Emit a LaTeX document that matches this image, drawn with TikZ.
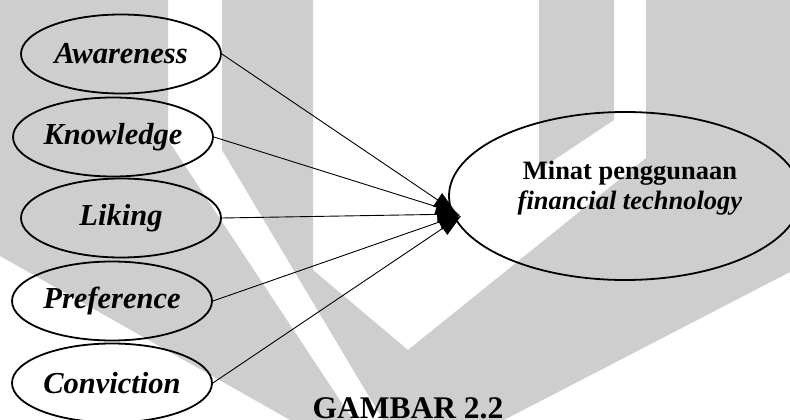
\documentclass[tikz,border=0pt]{standalone}
\usepackage{fontspec}
\setmainfont{Liberation Serif}
\usetikzlibrary{shapes.geometric,arrows.meta}

\definecolor{watermarkgray}{RGB}{206,206,206}

\begin{document}
\begin{tikzpicture}[
    x=1pt, y=-1pt,
    every text node part/.style={align=center},
    factor/.style={
      % The shape:
      ellipse,
      minimum width=200pt,
      minimum height=79pt,
      inner sep=0pt,
      % The border:
      draw=black,
      line width=1.8pt,
      % Font
      font=\fontsize{30.5}{35}\selectfont\bfseries\itshape,
    },
    target/.style={
      ellipse,
      minimum width=352pt,
      minimum height=168pt,
      draw=black,
      line width=1.8pt,
    },
    link/.style={
      -{Triangle[length=22pt,width=16pt]},
      line width=0.9pt,
      shorten >=-7pt,
    },
    watermark/.style={fill=watermarkgray, draw=none}]

    \useasboundingbox (0,0) rectangle (790,420);

    % the watermark behind the diagram
    \fill[watermark] (0,0) -- (168,0) -- (168,140) -- (353,420) -- (290,420)
      -- (0,256) -- cycle;
    \fill[watermark] (222,0) -- (313,0) -- (313,270) -- (408,350) -- (646,158)
      -- (646,0) -- (790,0) -- (790,272) -- (504,420) -- (383,420)
      -- (222,150) -- cycle;
    \fill[watermark] (539,0) -- (614,0) -- (614,120) -- (539,170) -- cycle;

    % the five factors
    \node[factor] (awareness) at (121,54) {Awareness};
    \node[factor] (knowledge) at (113,137) {Knowledge};
    \node[factor] (liking) at (121,218) {Liking};
    \node[factor] (preference) at (112,301) {Preference};
    \node[factor] (conviction) at (112,383) {Conviction};

    % the dependent variable
    \node[target] (minat) at (625,196) {};
    \node[font=\fontsize{26.5}{30}\selectfont\bfseries] (minattext) at (630,188)
      {Minat penggunaan\\\textit{financial technology}};

    \draw[link] (awareness.east) -- (minat.184);
    \draw[link] (knowledge.east) -- (minat.185);
    \draw[link] (liking.east) -- (minat.186);
    \draw[link] (preference.east) -- (minat.187);
    \draw[link] (conviction.east) -- (minat.188);

    \node[font=\fontsize{31.5}{36}\selectfont\bfseries, anchor=base,
      inner sep=0pt, text depth=0pt] (caption)
      at (408,418) {GAMBAR 2.2};
\end{tikzpicture}
\end{document}
